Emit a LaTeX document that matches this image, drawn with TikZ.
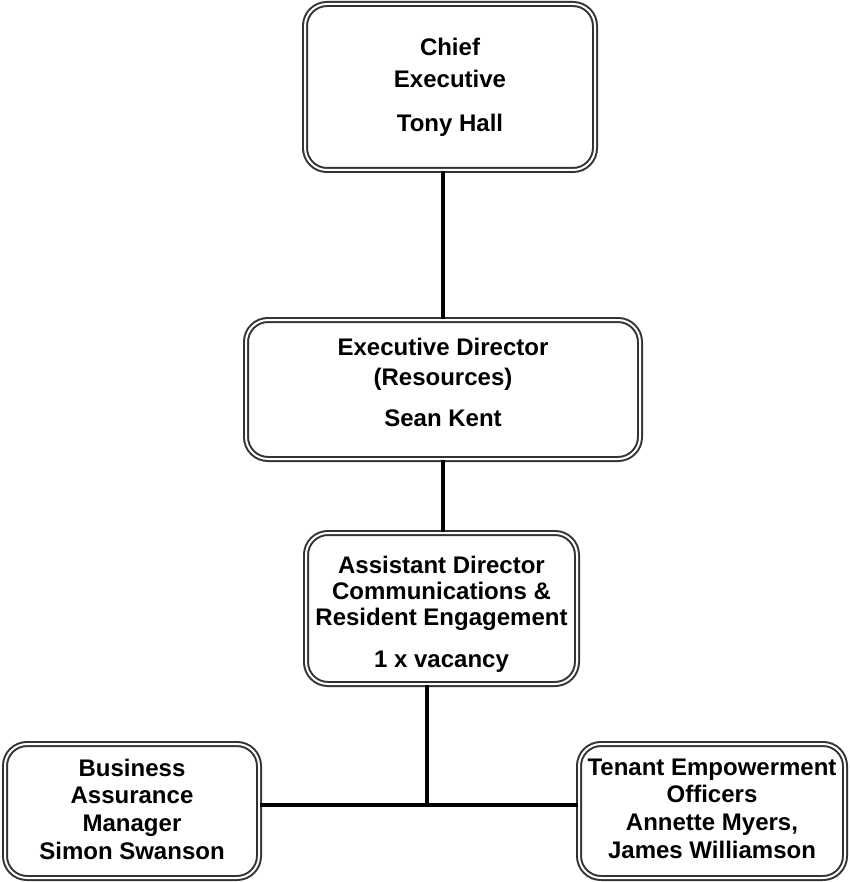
\documentclass[tikz,border=0pt]{standalone}
\usepackage{fontspec}
\setmainfont{Liberation Sans}
\begin{document}
\begin{tikzpicture}[x=1pt,y=-1pt,line join=round]
	\definecolor{boxline}{rgb}{0.2, 0.2, 0.2}
	\tikzset{post/.style={draw=boxline,line width=2pt,double=white,double distance=2pt,
			rounded corners=22pt,inner sep=0pt,align=center,
			font=\bfseries\fontsize{24}{26}\selectfont},
		link/.style={line width=4pt}}
	\useasboundingbox (0,0) rectangle (849,882);
	
	% posts
	\node[post,minimum width=290pt,minimum height=166pt] (chief) at (450,87)
	{Chief\\[6pt]Executive\\[18pt]Tony Hall};
	\node[post,minimum width=394pt,minimum height=139pt] (exec) at (443,389.5)
	{Executive Director\\[4pt](Resources)\\[15pt]Sean Kent\rule[-14pt]{0pt}{0pt}};
	\node[post,minimum width=271pt,minimum height=151pt] (asst) at (441.5,608.5)
	{\rule{0pt}{29.5pt}Assistant Director\\Communications \&\\Resident Engagement\\[16pt]1 x vacancy};
	\node[post,minimum width=254pt,minimum height=134pt] (biz) at (132,811)
	{Business\\[1.7pt]Assurance\\[1.7pt]Manager\\[1.7pt]Simon Swanson\rule[-4pt]{0pt}{0pt}};
	\node[post,minimum width=266pt,minimum height=134pt] (tenant) at (712,811)
	{Tenant Empowerment\\[1.7pt]Officers\\[1.7pt]Annette Myers,\\[1.7pt]James Williamson\rule[-5pt]{0pt}{0pt}};
	
	% lines
	\coordinate (fork) at (427,805);
	\draw[link] (chief.south -| exec.north) -- (exec.north);
	\draw[link] (exec.south) -- (exec.south |- asst.north);
	\draw[link] (asst.south -| fork) -- (fork);
	\draw[link] (biz.east |- fork) -- (tenant.west |- fork);
\end{tikzpicture}
\end{document}
